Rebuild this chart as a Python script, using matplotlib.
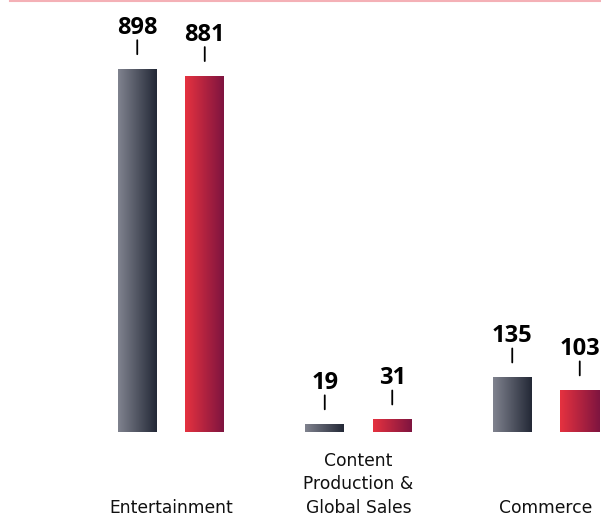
import matplotlib
matplotlib.use("Agg")
import matplotlib.pyplot as plt
import numpy as np
from matplotlib.colors import LinearSegmentedColormap
from matplotlib.lines import Line2D

categories = ["Entertainment", "Content\nProduction &\nGlobal Sales", "Commerce"]
series_a = [898, 19, 135]
series_b = [881, 31, 103]

plt.rcParams['font.family'] = ['Open Sans', 'DejaVu Sans']

fig = plt.figure(figsize=(6.01, 5.16), dpi=100)
ax = fig.add_axes([0, 0, 1, 1])

# pixel mapping: baseline at 432px from top, ~0.404 px per unit
px_per_unit = 0.404
ax.axis("off")

gray_cmap = LinearSegmentedColormap.from_list("g", ["#80838f", "#232836"])
red_cmap = LinearSegmentedColormap.from_list("r", ["#e6323f", "#7e1440"])
grad = np.linspace(0, 1, 256).reshape(1, -1)

x = np.arange(len(categories))
width = 0.208
off = 0.18

for vals, dx, cmap in [(series_a, -off, gray_cmap), (series_b, off, red_cmap)]:
    bars = ax.bar(x + dx, vals, width, color="none", edgecolor="none")
    for b, v in zip(bars, vals):
        x0 = b.get_x()
        ax.imshow(grad, cmap=cmap, aspect="auto",
                  extent=(x0, x0 + width, 0, v), zorder=2)
        cx = x0 + width / 2
        ax.annotate("", xy=(cx, v), xytext=(0, 29), textcoords="offset pixels",
                    arrowprops=dict(arrowstyle="-", shrinkA=0, shrinkB=10.8,
                                    lw=1.3, color="black"))
        ax.annotate(str(v), xy=(cx, v), xytext=(0, 35), textcoords="offset pixels",
                    ha="center", va="baseline", fontsize=17, fontweight="bold",
                    color="black")

ax.set_xlim(-171 / 187.5, (601 - 171) / 187.5)
ax.set_ylim(-(516 - 432) / px_per_unit, 432 / px_per_unit)

label_y = -(513.3 - 432) / px_per_unit
for xi, c in zip(x, categories):
    ax.text(xi, label_y, c, ha="center", va="baseline", fontsize=12.3,
            family="DejaVu Sans", linespacing=1.42, color="#111111",
            multialignment="center")

fig.add_artist(Line2D([10 / 601, 1], [1 - 0.8 / 516, 1 - 0.8 / 516],
                      color="#f4b0b6", lw=1.5, transform=fig.transFigure))

fig.savefig("out.png", dpi=100)
